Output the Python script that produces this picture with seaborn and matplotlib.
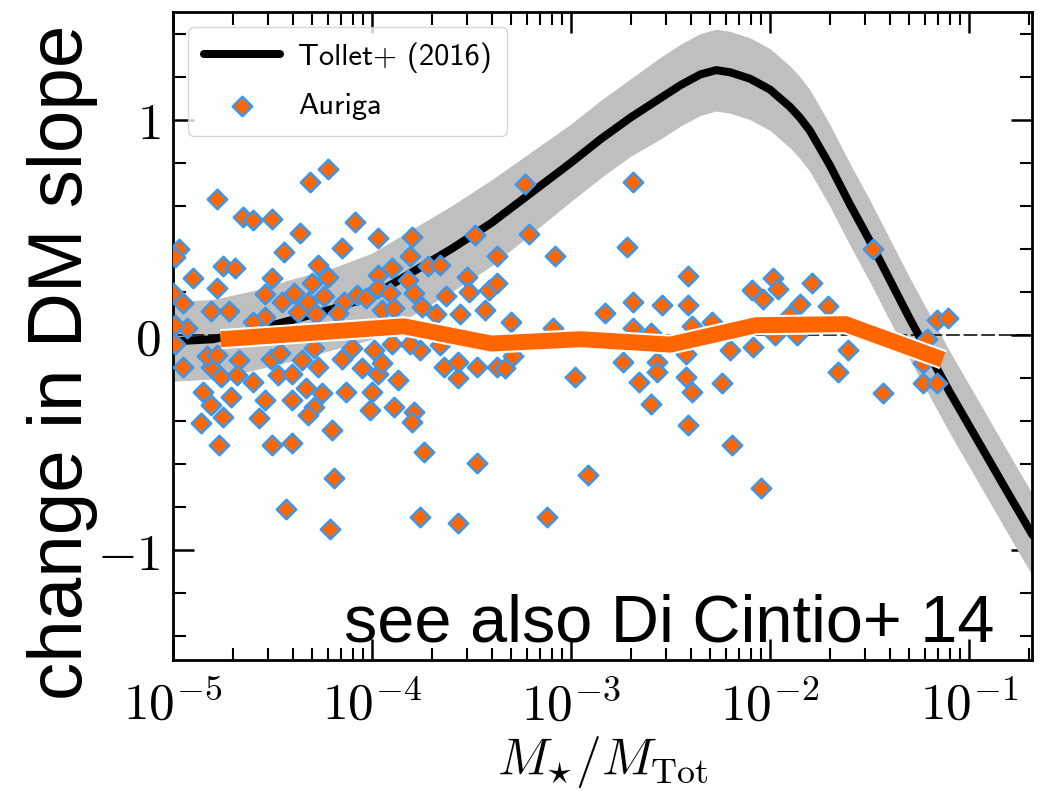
import numpy as np
import matplotlib
matplotlib.use("Agg")
import matplotlib.pyplot as plt
import matplotlib.patheffects as pe
from matplotlib.ticker import LogLocator, MultipleLocator, NullFormatter
import seaborn as sns

# ---------------- data ----------------
# Tollet+ (2016) relation: log10(M*/Mtot) and change in DM slope
tollet_logx = [-5.0, -4.8, -4.6, -4.4, -4.2, -4.0, -3.8, -3.6, -3.4, -3.2,
               -3.0, -2.85, -2.7, -2.55, -2.45, -2.35, -2.27, -2.2, -2.1, -2.0,
               -1.95, -1.9, -1.85, -1.8, -1.75, -1.7, -1.6, -1.5, -1.4, -1.3,
               -1.2, -1.1, -1.0, -0.9, -0.8, -0.68]
tollet_y = [-0.03, -0.02, 0.02, 0.07, 0.12, 0.18, 0.29, 0.40, 0.52, 0.66,
            0.80, 0.91, 1.01, 1.10, 1.16, 1.21, 1.23, 1.22, 1.19, 1.14,
            1.10, 1.06, 1.01, 0.95, 0.87, 0.79, 0.61, 0.44, 0.26, 0.08,
            -0.09, -0.26, -0.42, -0.58, -0.74, -0.93]
tollet_halfwidth = [0.185, 0.185, 0.185, 0.19, 0.19, 0.2, 0.2, 0.2, 0.2, 0.19,
                    0.18, 0.18, 0.18, 0.19, 0.19, 0.19, 0.19, 0.19, 0.19, 0.19,
                    0.19, 0.19, 0.19, 0.19, 0.19, 0.19, 0.19, 0.19, 0.19, 0.19,
                    0.19, 0.19, 0.19, 0.19, 0.19, 0.19]

# Auriga running median
median_logx = [-4.76, -4.30, -3.84, -3.40, -2.95, -2.50, -2.07, -1.62, -1.13]
median_y = [-0.02, 0.01, 0.04, -0.04, -0.02, -0.045, 0.045, 0.05, -0.115]

# Auriga haloes
auriga_logx = [
    -4.78, -4.65, -4.60, -4.50, -4.97, -4.99, -4.75, -4.69, -4.90, -4.50,
    -4.78, -4.95, -4.54, -4.81, -4.72, -4.54, -4.93, -4.60, -4.99, -4.51,
    -4.95, -4.81, -4.67, -4.76, -4.68, -4.60, -4.85, -4.71, -4.54, -4.81,
    -4.75, -4.57, -4.86, -4.77, -4.50, -4.99, -5.00, -4.83, -4.78,
    -4.22, -4.31, -4.085, -4.36, -3.97, -4.44, -4.15, -4.27, -4.22, -4.30,
    -3.97, -4.45, -4.32, -4.24, -4.075, -4.37, -4.14, -3.97, -4.35, -4.27,
    -4.15, -4.05, -4.47, -4.40, -3.97, -4.33, -4.25, -4.13, -4.00, -4.29,
    -4.32, -4.01, -4.20, -4.40, -4.19, -4.43, -4.21, -4.46, -4.29, -4.10,
    -3.99, -4.17, -4.39, -4.28, -4.03, -3.95, -4.40,
    -3.80, -3.48, -3.81, -3.90, -3.72, -3.66, -3.37, -3.82, -3.52, -3.91,
    -3.79, -3.63, -3.41, -3.89, -3.75, -3.68, -3.56, -3.43, -3.90, -3.76,
    -3.66, -3.95, -3.87, -3.64, -3.57, -3.47, -3.57, -3.89, -3.79, -3.80,
    -3.74, -3.47, -3.76, -3.57, -3.37, -3.81, -3.51,
    -3.23, -2.69, -3.21, -2.72, -3.08, -3.37, -2.69, -2.83, -3.30, -3.09,
    -2.69, -3.29, -3.33, -2.74, -2.98, -2.66, -2.915, -3.12,
    -2.41, -2.54, -2.41, -2.60, -2.39, -2.29, -1.985, -2.09, -1.96, -2.035,
    -1.79, -1.85, -1.71, -1.90, -1.48, -1.16, -1.105, -1.21, -2.20, -2.085,
    -1.975, -1.865, -1.61, -2.57, -2.42, -2.57, -2.42, -2.60, -2.39, -2.24,
    -1.66, -1.43, -1.23, -1.16, -1.23, -2.41, -2.19, -2.045,
]
auriga_y = [
    0.63, 0.55, 0.535, 0.54, 0.40, 0.36, 0.32, 0.31, 0.265, 0.265,
    0.22, 0.15, 0.19, 0.11, 0.11, 0.085, 0.03, 0.06, -0.04, -0.11,
    -0.15, -0.15, -0.115, -0.195, -0.185, -0.22, -0.265, -0.29, -0.30, -0.325,
    -0.38, -0.385, -0.41, -0.51, -0.51, 0.045, 0.195, -0.10, -0.095,
    0.77, 0.71, 0.525, 0.475, 0.45, 0.385, 0.405, 0.325, 0.27, 0.24,
    0.28, 0.155, 0.155, 0.18, 0.185, 0.105, 0.155, 0.22, -0.115, -0.15,
    -0.11, -0.155, -0.185, -0.18, -0.18, -0.245, -0.27, -0.265, -0.265, -0.335,
    -0.37, -0.35, -0.44, -0.50, -0.665, -0.81, -0.90, -0.085, -0.06, -0.06,
    -0.07, 0.10, 0.195, 0.095, 0.17, 0.115, -0.30,
    0.455, 0.465, 0.365, 0.31, 0.32, 0.325, 0.365, 0.255, 0.27, 0.195,
    0.195, 0.18, 0.21, 0.125, 0.13, 0.095, 0.095, 0.115, -0.04, -0.07,
    -0.045, -0.13, -0.21, -0.15, -0.20, -0.15, -0.125, -0.335, -0.36, -0.405,
    -0.545, -0.595, -0.845, -0.875, -0.15, -0.04, 0.20,
    0.70, 0.71, 0.47, 0.41, 0.365, 0.24, 0.155, 0.10, 0.06, 0.03,
    0.03, -0.10, -0.155, -0.125, -0.195, -0.22, -0.65, -0.845,
    0.275, 0.14, 0.14, 0.01, 0.04, 0.06, 0.265, 0.21, 0.215, 0.165,
    0.24, 0.145, 0.135, 0.093, 0.40, 0.07, 0.08, -0.02, -0.07, -0.057,
    0.0, 0.0, -0.07, -0.125, -0.09, -0.17, -0.195, -0.32, -0.265, -0.225,
    -0.17, -0.27, -0.225, -0.225, -0.13, -0.42, -0.51, -0.71,
]

x_ticks = [1e-5, 1e-4, 1e-3, 1e-2, 1e-1]
x_ticklabels = [r"$10^{-5}$", r"$10^{-4}$", r"$10^{-3}$", r"$10^{-2}$", r"$10^{-1}$"]
y_ticks = [-1, 0, 1]
y_ticklabels = [r"$-1$", r"$0$", r"$1$"]

# ---------------- style ----------------
sns.set_theme(style="ticks", rc={"text.color": "black", "axes.labelcolor": "black",
                                 "xtick.color": "black", "ytick.color": "black",
                                 "axes.edgecolor": "black"})
plt.rcParams["font.family"] = ["DejaVu Sans"]
plt.rcParams["mathtext.fontset"] = "cm"

ORANGE = "#ff6600"
BLUE = "#3b97ee"

fig = plt.figure(figsize=(10.48, 7.91), dpi=100)
ax = fig.add_axes([173 / 1048, 131 / 791, 859 / 1048, 648 / 791])

tx = 10 ** np.array(tollet_logx)
ty = np.array(tollet_y)
th = np.array(tollet_halfwidth)

ax.fill_between(tx, ty - th, ty + th, color="#bfbfbf", lw=0, zorder=1)
ax.axhline(0, color="black", lw=1.1, dashes=(9, 2.5), zorder=1.5)

sns.lineplot(x=tx, y=ty, color="black", lw=5.8, ax=ax, zorder=2,
             label="Tollet+ (2016)", sort=False, solid_joinstyle="round")

sns.scatterplot(x=10 ** np.array(auriga_logx), y=auriga_y, marker="D", s=98,
                color=ORANGE, edgecolor=BLUE, linewidth=1.8, zorder=3,
                ax=ax, label="Auriga")

sns.lineplot(x=10 ** np.array(median_logx), y=median_y, color=ORANGE, lw=11.5,
             solid_capstyle="butt", solid_joinstyle="round", zorder=4, ax=ax,
             path_effects=[pe.Stroke(linewidth=14.5, foreground="white"), pe.Normal()],
             legend=False, sort=False)

ax.set_xscale("log")
ax.set_xlim(1e-5, 0.2075)
ax.set_ylim(-1.51, 1.50)

ax.set_xticks(x_ticks, x_ticklabels)
ax.xaxis.set_minor_locator(LogLocator(base=10, subs=np.arange(2, 10)))
ax.xaxis.set_minor_formatter(NullFormatter())
ax.set_yticks(y_ticks, y_ticklabels)
ax.yaxis.set_minor_locator(MultipleLocator(0.2))

ax.tick_params(which="both", direction="in", top=True, right=True)
ax.tick_params(which="major", length=15, width=1.8, labelsize=37)
ax.tick_params(axis="x", which="major", pad=15)
ax.tick_params(axis="y", which="major", pad=9)
ax.tick_params(which="minor", length=9, width=1.5)
for s in ax.spines.values():
    s.set_linewidth(2)
    s.set_color("black")

ax.set_xlabel(r"$M_{\star}/M_{\rm Tot}$", fontsize=37, labelpad=2)
ax.set_ylabel("")

leg = ax.legend(loc="upper left", prop={"family": ["cmss10", "DejaVu Sans"], "size": 22},
                handlelength=2.5, handletextpad=0.6, labelspacing=0.65,
                borderpad=0.5, borderaxespad=0.5, fancybox=True,
                framealpha=0.8, edgecolor="0.8")

ax.text(0.9558, 0.0293, "see also Di Cintio+ 14", transform=ax.transAxes,
        ha="right", va="baseline", fontsize=48,
        family=["Liberation Sans", "DejaVu Sans"], zorder=6)

fig.text(82 / 1048, (791 - 362) / 791, "change in DM slope", rotation=90,
         rotation_mode="anchor", ha="center", va="baseline", fontsize=55,
         family=["Liberation Sans", "DejaVu Sans"])

fig.savefig("out.png", dpi=100)
